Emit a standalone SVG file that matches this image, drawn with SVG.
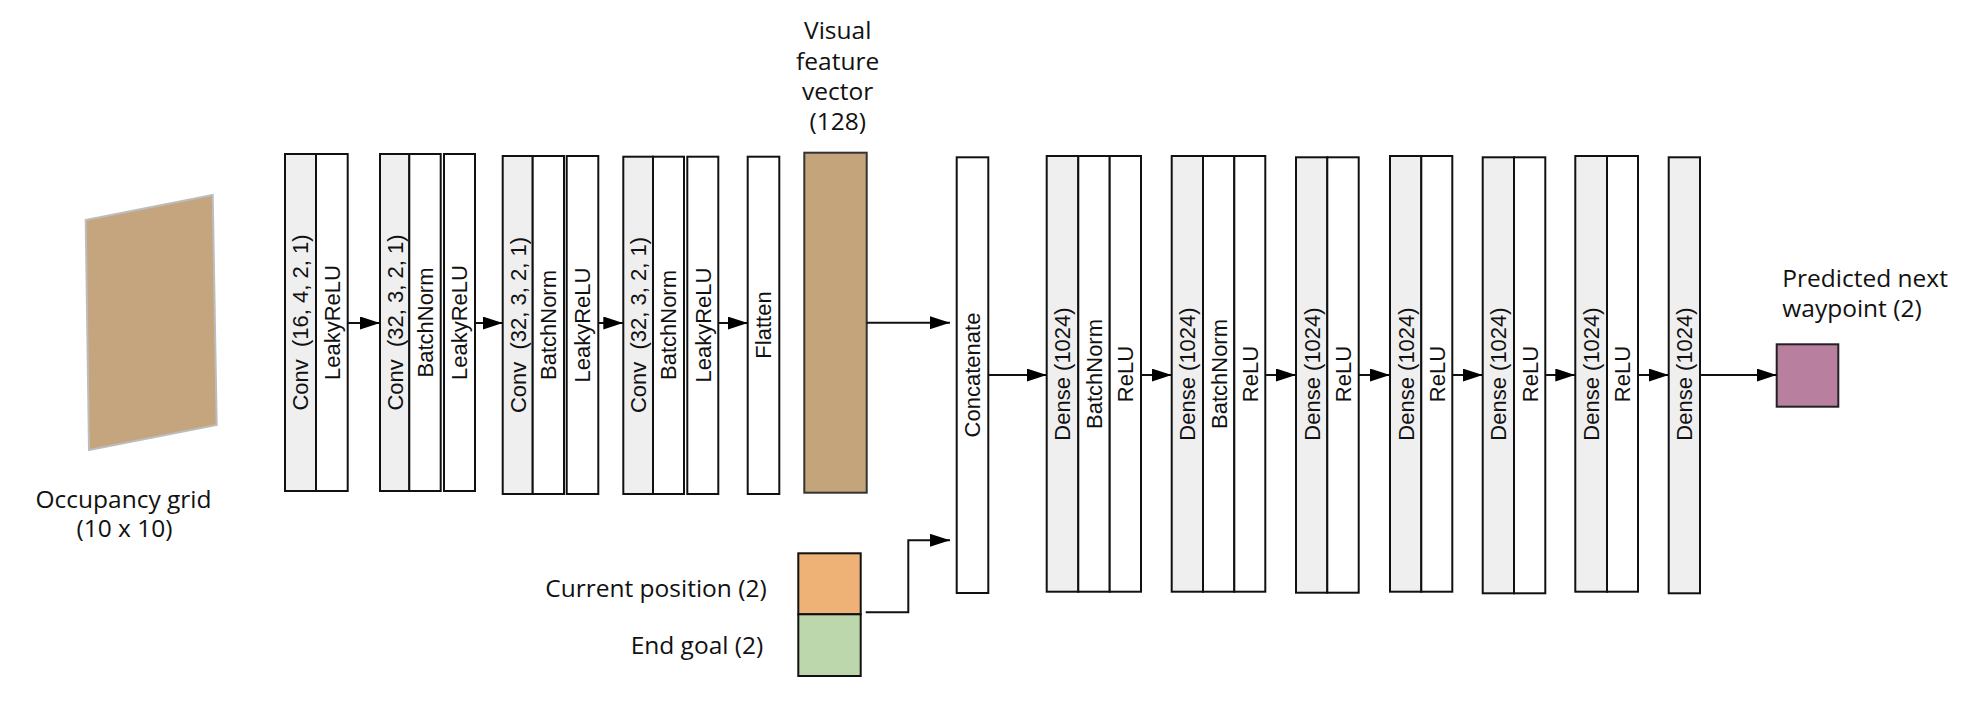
<svg xmlns="http://www.w3.org/2000/svg" width="1966" height="726" viewBox="0 0 1966 726">
<style>
.g{fill:#efefef;stroke:#111;stroke-width:2}
.w{fill:#fff;stroke:#111;stroke-width:2}
.lbl{font-family:"Liberation Sans",Arial,sans-serif;font-size:22px;fill:#111;text-anchor:middle}
.os{font-family:"Open Sans","Noto Sans",sans-serif;font-size:24.5px;fill:#111}
.c{fill:none;stroke:#111;stroke-width:2}
</style>
<defs>
<marker id="ah" markerUnits="userSpaceOnUse" markerWidth="20" markerHeight="13" refX="20" refY="6.5" orient="auto"><path d="M0,0 L20,6.5 L0,13 z" fill="#000"/></marker>
</defs>
<rect width="1966" height="726" fill="#fff"/>

<g id="occupancy-grid">
<polygon points="85.7,220 212.7,195 216.7,425 89,450" fill="#c4a57d" stroke="#bdbdbd" stroke-width="2"/>
<text class="os" x="123.5" y="507.5" text-anchor="middle">Occupancy grid</text>
<text class="os" x="124.5" y="537" text-anchor="middle">(10 x 10)</text>
</g>

<g id="conv1">
<rect class="g" x="285" y="154" width="31" height="337"/>
<rect class="w" x="316" y="154" width="31.7" height="337"/>
<text class="lbl" xml:space="preserve" transform="translate(300.5,322.5) rotate(-90)" y="7.9">Conv  (16, 4, 2, 1)</text>
<text class="lbl" transform="translate(331.8,322.5) rotate(-90)" y="7.9">LeakyReLU</text>
</g>

<g id="conv2">
<rect class="g" x="380" y="154" width="29.3" height="337"/>
<rect class="w" x="409.3" y="154" width="31.4" height="337"/>
<rect class="w" x="444" y="154" width="31" height="337"/>
<text class="lbl" xml:space="preserve" transform="translate(394.6,322.5) rotate(-90)" y="7.9">Conv  (32, 3, 2, 1)</text>
<text class="lbl" transform="translate(425,322.5) rotate(-90)" y="7.9">BatchNorm</text>
<text class="lbl" transform="translate(459.5,322.5) rotate(-90)" y="7.9">LeakyReLU</text>
</g>

<g id="conv3">
<rect class="g" x="502.7" y="156" width="30" height="338"/>
<rect class="w" x="532.7" y="156" width="31.3" height="338"/>
<rect class="w" x="566.7" y="156" width="31.6" height="338"/>
<text class="lbl" xml:space="preserve" transform="translate(517.7,325) rotate(-90)" y="7.9">Conv  (32, 3, 2, 1)</text>
<text class="lbl" transform="translate(548.3,325) rotate(-90)" y="7.9">BatchNorm</text>
<text class="lbl" transform="translate(582.5,325) rotate(-90)" y="7.9">LeakyReLU</text>
</g>

<g id="conv4">
<rect class="g" x="623.3" y="156.7" width="29.7" height="337.3"/>
<rect class="w" x="653" y="156.7" width="31" height="337.3"/>
<rect class="w" x="687.3" y="156.7" width="31" height="337.3"/>
<text class="lbl" xml:space="preserve" transform="translate(638.1,325) rotate(-90)" y="7.9">Conv  (32, 3, 2, 1)</text>
<text class="lbl" transform="translate(668.5,325) rotate(-90)" y="7.9">BatchNorm</text>
<text class="lbl" transform="translate(702.8,325) rotate(-90)" y="7.9">LeakyReLU</text>
</g>

<g id="flatten">
<rect class="w" x="747.7" y="156.7" width="31.6" height="337.3"/>
<text class="lbl" transform="translate(763.5,325) rotate(-90)" y="7.9">Flatten</text>
</g>

<g id="visual-feature">
<rect x="804.3" y="152.7" width="62.4" height="340" fill="#c4a57b" stroke="#333" stroke-width="2"/>
<text class="os" x="837.7" y="39" text-anchor="middle">Visual</text>
<text class="os" x="837.7" y="69.5" text-anchor="middle">feature</text>
<text class="os" x="837.7" y="99.5" text-anchor="middle">vector</text>
<text class="os" x="837.7" y="129.5" text-anchor="middle">(128)</text>
</g>

<g id="inputs">
<rect x="798.3" y="553.3" width="62.4" height="61" fill="#eeb277" stroke="#111" stroke-width="2"/>
<rect x="798.3" y="614.3" width="62.4" height="61.7" fill="#bbd7ab" stroke="#111" stroke-width="2"/>
<text class="os" x="766.7" y="597.3" text-anchor="end">Current position (2)</text>
<text class="os" x="763.3" y="654" text-anchor="end">End goal (2)</text>
</g>

<g id="concatenate">
<rect class="w" x="956.7" y="157.3" width="31.6" height="435.7"/>
<text class="lbl" transform="translate(972.5,375) rotate(-90)" y="7.9">Concatenate</text>
</g>

<g id="dense1">
<rect class="g" x="1046.7" y="156" width="31.6" height="435.7"/>
<rect class="w" x="1078.3" y="156" width="31.4" height="435.7"/>
<rect class="w" x="1109.7" y="156" width="31.3" height="435.7"/>
<text class="lbl" transform="translate(1062.5,374) rotate(-90)" y="7.9">Dense (1024)</text>
<text class="lbl" transform="translate(1094,374) rotate(-90)" y="7.9">BatchNorm</text>
<text class="lbl" transform="translate(1125.3,374) rotate(-90)" y="7.9">ReLU</text>
</g>

<g id="dense2">
<rect class="g" x="1171.7" y="156" width="31.3" height="435.7"/>
<rect class="w" x="1203" y="156" width="31.3" height="435.7"/>
<rect class="w" x="1234.3" y="156" width="31" height="435.7"/>
<text class="lbl" transform="translate(1187.3,374) rotate(-90)" y="7.9">Dense (1024)</text>
<text class="lbl" transform="translate(1218.7,374) rotate(-90)" y="7.9">BatchNorm</text>
<text class="lbl" transform="translate(1249.8,374) rotate(-90)" y="7.9">ReLU</text>
</g>

<g id="dense3">
<rect class="g" x="1296" y="157.3" width="31.3" height="435.4"/>
<rect class="w" x="1327.3" y="157.3" width="31.4" height="435.4"/>
<text class="lbl" transform="translate(1311.7,374) rotate(-90)" y="7.9">Dense (1024)</text>
<text class="lbl" transform="translate(1343,374) rotate(-90)" y="7.9">ReLU</text>
</g>

<g id="dense4">
<rect class="g" x="1390" y="156" width="31.3" height="435.7"/>
<rect class="w" x="1421.3" y="156" width="31" height="435.7"/>
<text class="lbl" transform="translate(1405.7,374) rotate(-90)" y="7.9">Dense (1024)</text>
<text class="lbl" transform="translate(1436.8,374) rotate(-90)" y="7.9">ReLU</text>
</g>

<g id="dense5">
<rect class="g" x="1482.7" y="157.3" width="31.3" height="436"/>
<rect class="w" x="1514" y="157.3" width="31.3" height="436"/>
<text class="lbl" transform="translate(1498.3,374) rotate(-90)" y="7.9">Dense (1024)</text>
<text class="lbl" transform="translate(1529.7,374) rotate(-90)" y="7.9">ReLU</text>
</g>

<g id="dense6">
<rect class="g" x="1575.3" y="156" width="31.7" height="435.7"/>
<rect class="w" x="1607" y="156" width="31" height="435.7"/>
<text class="lbl" transform="translate(1591.2,374) rotate(-90)" y="7.9">Dense (1024)</text>
<text class="lbl" transform="translate(1622.5,374) rotate(-90)" y="7.9">ReLU</text>
</g>

<g id="dense7">
<rect class="g" x="1668.7" y="157.3" width="31.3" height="436"/>
<text class="lbl" transform="translate(1684.3,374) rotate(-90)" y="7.9">Dense (1024)</text>
</g>

<g id="output">
<rect x="1776.7" y="344.3" width="61.6" height="62.4" fill="#b87f9f" stroke="#222" stroke-width="2"/>
<text class="os" x="1782.3" y="286.7">Predicted next</text>
<text class="os" x="1782.3" y="316.7">waypoint (2)</text>
</g>

<g id="connectors">
<line class="c" x1="347.7" y1="323" x2="380" y2="323" marker-end="url(#ah)"/>
<line class="c" x1="475" y1="323" x2="502.7" y2="323" marker-end="url(#ah)"/>
<line class="c" x1="598.3" y1="323" x2="623.3" y2="323" marker-end="url(#ah)"/>
<line class="c" x1="718.3" y1="323" x2="747.7" y2="323" marker-end="url(#ah)"/>
<line class="c" x1="866.7" y1="322.7" x2="950" y2="322.7" marker-end="url(#ah)"/>
<polyline class="c" points="865.7,612.3 908.3,612.3 908.3,540.3 950,540.3" marker-end="url(#ah)"/>
<line class="c" x1="988.3" y1="375" x2="1046.7" y2="375" marker-end="url(#ah)"/>
<line class="c" x1="1141" y1="375" x2="1171.7" y2="375" marker-end="url(#ah)"/>
<line class="c" x1="1265.3" y1="375" x2="1296" y2="375" marker-end="url(#ah)"/>
<line class="c" x1="1358.7" y1="375" x2="1390" y2="375" marker-end="url(#ah)"/>
<line class="c" x1="1452.3" y1="375" x2="1482.7" y2="375" marker-end="url(#ah)"/>
<line class="c" x1="1545.3" y1="375" x2="1575.3" y2="375" marker-end="url(#ah)"/>
<line class="c" x1="1638" y1="375" x2="1668.7" y2="375" marker-end="url(#ah)"/>
<line class="c" x1="1700" y1="375" x2="1776.7" y2="375" marker-end="url(#ah)"/>
</g>
</svg>
